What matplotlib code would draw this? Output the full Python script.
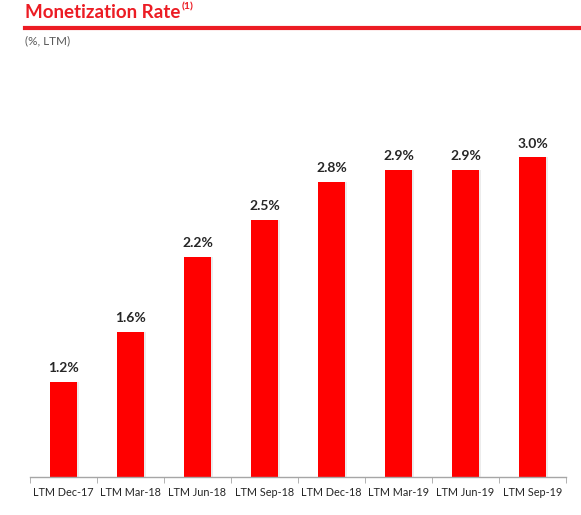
import matplotlib.pyplot as plt
from matplotlib.lines import Line2D

# === 資料 === #
categories = ["LTM Dec-17", "LTM Mar-18", "LTM Jun-18", "LTM Sep-18",
              "LTM Dec-18", "LTM Mar-19", "LTM Jun-19", "LTM Sep-19"]
values = [1.2, 1.6, 2.2, 2.5, 2.8, 2.9, 2.9, 3.0]
labels = ["1.2%", "1.6%", "2.2%", "2.5%", "2.8%", "2.9%", "2.9%", "3.0%"]

plt.rcParams['font.family'] = ['Lato', 'DejaVu Sans']

fig = plt.figure(figsize=(5.81, 5.15), dpi=100)
W, H = 581, 515
ax = fig.add_axes([30 / W, 1 - 477 / H, 536 / W, 377 / H])

x = range(len(categories))
bottom = 0.44
heights = [v - bottom for v in values]

# 淡陰影
ax.bar([i + 0.03 for i in x], heights, width=0.41, bottom=bottom,
       color='#ececec', zorder=1)
ax.bar(x, heights, width=0.41, bottom=bottom, color='#ff0000', zorder=2)

for i, (v, lab) in enumerate(zip(values, labels)):
    ax.text(i, v + 0.06, lab, ha='center', va='bottom', fontsize=10,
            fontweight='bold', color='#262626')

ax.set_xlim(-0.5, len(categories) - 0.5)
ax.set_ylim(bottom, bottom + 377 / 125)
ax.set_xticks(list(x))
ax.set_xticklabels(categories, fontsize=7.8, color='#262626')
ax.tick_params(axis='x', length=0, pad=7)
ax.set_xticks([i - 0.5 for i in range(len(categories) + 1)], minor=True)
ax.tick_params(axis='x', which='minor', length=4, color='#a6a6a6', direction='out')
ax.set_yticks([])
for s in ['top', 'right', 'left']:
    ax.spines[s].set_visible(False)
ax.spines['bottom'].set_color('#a6a6a6')
ax.spines['bottom'].set_linewidth(1)

# === 標題 === #
fig.text(25 / W, 1 - 13 / H, "Monetization Rate", fontsize=13.5,
         fontweight='bold', color='#ec1c24', ha='left', va='center')
fig.text(182 / W, 1 - 7 / H, "(1)", fontsize=7.5,
         fontweight='bold', color='#ec1c24', ha='left', va='center')
fig.add_artist(Line2D([25 / W, 1], [1 - 28 / H, 1 - 28 / H], color='#ec1c24',
                      linewidth=3, transform=fig.transFigure))
fig.text(25 / W, 1 - 41 / H, "(%, LTM)", fontsize=8.5, color='#595959',
         ha='left', va='center')

fig.savefig("out.png", dpi=100)
